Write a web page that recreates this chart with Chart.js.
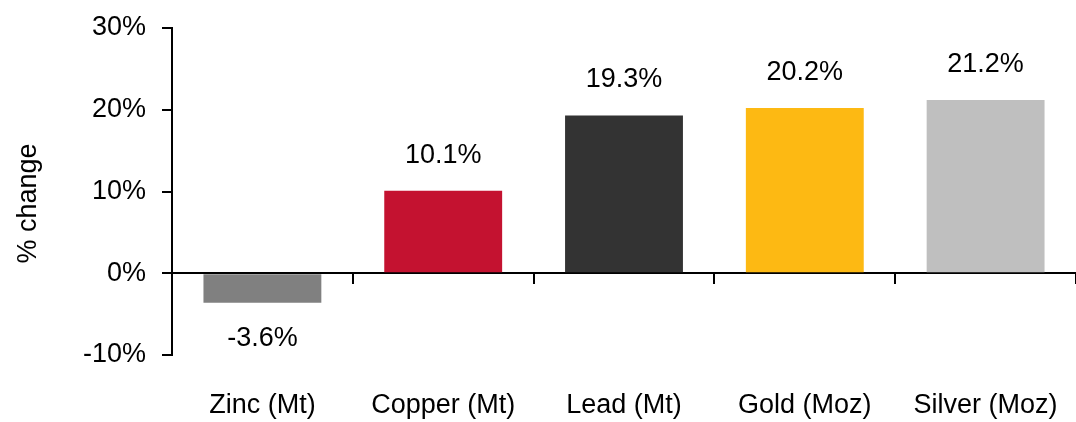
<!DOCTYPE html>
<html>
<head>
<meta charset="utf-8">
<script src="https://cdn.jsdelivr.net/npm/chart.js@4.4.1/dist/chart.umd.min.js"></script>
<style>
  html, body { margin: 0; padding: 0; background: #ffffff; }
  #wrap { width: 1076px; height: 422px; }
</style>
</head>
<body>
<div id="wrap"><canvas id="c" width="1076" height="422"></canvas></div>
<script>
const categories = ["Zinc (Mt)", "Copper (Mt)", "Lead (Mt)", "Gold (Moz)", "Silver (Moz)"];
const values = [-3.6, 10.1, 19.3, 20.2, 21.2];
const barColors = ["#808080", "#C41230", "#333333", "#FDB913", "#BFBFBF"];
const yTicks = [-10, 0, 10, 20, 30];
const yTitle = "% change";

const FONT = "'Liberation Sans', Arial, sans-serif";

const labelPlugin = {
  id: 'valueLabels',
  afterDatasetsDraw(chart) {
    const ctx = chart.ctx;
    const meta = chart.getDatasetMeta(0);
    ctx.save();
    ctx.font = "27px " + FONT;
    ctx.fillStyle = "#000000";
    ctx.textAlign = "center";
    ctx.textBaseline = "alphabetic";
    meta.data.forEach((bar, i) => {
      const v = values[i];
      const txt = v.toFixed(1) + "%";
      if (v >= 0) ctx.fillText(txt, bar.x, bar.y - 28);
      else ctx.fillText(txt, bar.x, bar.y + 43);
    });
    ctx.restore();
  }
};

const titlePlugin = {
  id: 'yTitle',
  afterDraw(chart) {
    const ctx = chart.ctx;
    const ca = chart.chartArea;
    ctx.save();
    ctx.font = "27px " + FONT;
    ctx.fillStyle = "#000000";
    ctx.textAlign = "center";
    ctx.textBaseline = "middle";
    ctx.translate(29, (ca.top + ca.bottom) / 2 + 12);
    ctx.rotate(-Math.PI / 2);
    ctx.fillText(yTitle, 0, 0);
    ctx.restore();
  }
};

new Chart(document.getElementById('c'), {
  type: 'bar',
  data: {
    labels: categories,
    datasets: [{
      data: values,
      backgroundColor: barColors,
      borderWidth: 0,
      categoryPercentage: 1.0,
      barPercentage: 0.652,
      xAxisID: 'x',
      yAxisID: 'y'
    }]
  },
  options: {
    responsive: false,
    animation: false,
    devicePixelRatio: 1,
    layout: { padding: { top: 28, right: 0, bottom: 0, left: 0 } },
    plugins: { legend: { display: false }, tooltip: { enabled: false } },
    scales: {
      x: {
        type: 'category',
        position: 'bottom',
        offset: true,
        grid: { display: false, drawTicks: true, tickLength: 34 },
        border: { display: false },
        ticks: {
          color: '#000000',
          font: { family: FONT, size: 27 },
          padding: 0,
          maxRotation: 0,
          autoSkip: false
        },
        afterFit(scale) { scale.height = 67; }
      },
      x2: {
        type: 'category',
        labels: categories,
        position: { y: 0 },
        offset: true,
        grid: {
          display: true,
          offset: true,
          drawOnChartArea: false,
          drawTicks: true,
          tickLength: 10,
          color: '#000000',
          lineWidth: 2
        },
        border: { display: true, color: '#000000', width: 2 },
        ticks: { display: false }
      },
      y: {
        type: 'linear',
        position: 'left',
        min: -10,
        max: 30,
        afterBuildTicks(scale) { scale.ticks = yTicks.map(v => ({ value: v })); },
        grid: {
          display: true,
          drawOnChartArea: false,
          drawTicks: true,
          tickLength: 10,
          color: '#000000',
          lineWidth: 2
        },
        border: { display: true, color: '#000000', width: 2 },
        ticks: {
          color: '#000000',
          font: { family: FONT, size: 27 },
          padding: 16,
          callback: (v) => v + '%'
        },
        afterFit(scale) {
          scale.width = 172;
          scale.paddingTop = 0;
          scale.paddingBottom = 0;
        }
      }
    }
  },
  plugins: [labelPlugin, titlePlugin]
});
</script>
</body>
</html>
